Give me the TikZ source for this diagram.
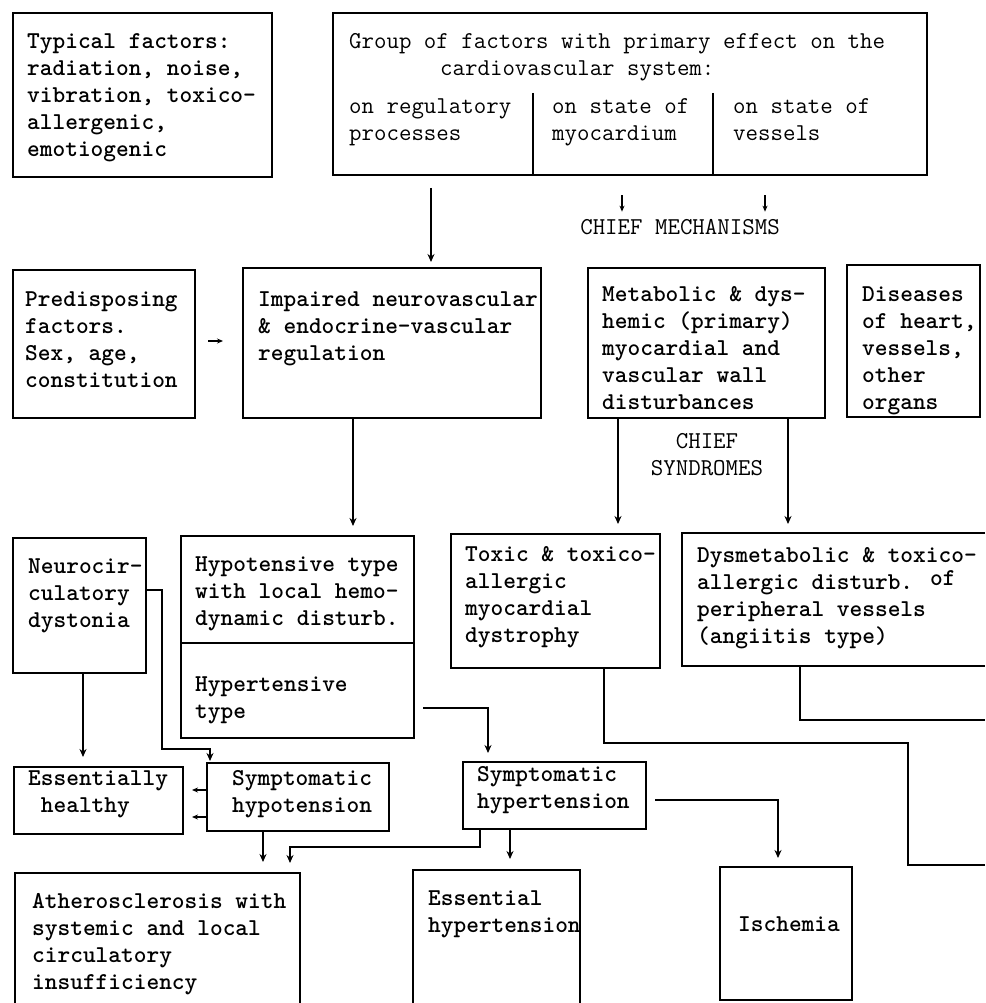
\documentclass[tikz,border=0pt]{standalone}
\usetikzlibrary{arrows.meta,fit,calc}
\newcommand{\bxfont}{\fontsize{24.2}{27}\selectfont\ttfamily\bfseries}
\newcommand{\ltfont}{\fontsize{24.2}{27}\selectfont\ttfamily\mdseries}
\newcommand{\lns}[1]{\begin{tabular}[t]{@{}l@{}}#1\end{tabular}}
\newcommand{\clns}[1]{\begin{tabular}[t]{@{}c@{}}#1\end{tabular}}
\begin{document}
\begin{tikzpicture}[x=1pt,y=-1pt,
  boxst/.style={draw, line width=1.6pt, inner sep=0pt, outer sep=0pt},
  hid/.style={inner sep=0pt, outer sep=0pt},
  ln/.style={line width=1.6pt},
  arr/.style={line width=1.6pt, -{Stealth[length=8pt,width=7pt]}},
  arrs/.style={line width=1.1pt, -{Stealth[length=6pt,width=5pt]}},
  txt/.style={anchor=base west, inner sep=0pt, font=\bxfont},
  ltxt/.style={anchor=base west, inner sep=0pt, font=\ltfont},
]
\fill[white] (0,0) rectangle (985,1003);
\useasboundingbox (0,0) rectangle (985,1003);

% ---- boxes
\node[boxst, fit={(13,13) (272,177)}] (f1) {};
\node[boxst, fit={(333,13) (927,175)}] (g) {};
\node[boxst, fit={(13,270) (195,418)}] (pre) {};
\node[boxst, fit={(243,268) (541,418)}] (imp) {};
\node[boxst, fit={(588,268) (825,418)}] (met) {};
\node[boxst, fit={(847,265) (980,417)}] (dis) {};
\node[boxst, fit={(13,538) (146,673)}] (neu) {};
\node[boxst, fit={(181,536) (414,738)}] (hyp) {};
\node[boxst, fit={(451,534) (660,668)}] (tox) {};
\node[hid, fit={(682,533) (985,666)}] (dys) {};
\node[boxst, fit={(14,767) (183,834)}] (eh) {};
\node[boxst, fit={(207,763) (389,831)}] (shpo) {};
\node[boxst, fit={(463,762) (646,829)}] (shpe) {};
\node[hid, fit={(15,873) (300,1003)}] (ath) {};
\node[hid, fit={(413,870) (580,1003)}] (ess) {};
\node[boxst, fit={(720,867) (852,1000)}] (isc) {};

% open boxes
\draw[ln] (dys.north east) -- (dys.north west) -- (dys.south west) -- (dys.south east);
\draw[ln] (ath.south west) -- (ath.north west) -- (ath.north east) -- (ath.south east);
\draw[ln] (ess.south west) -- (ess.north west) -- (ess.north east) -- (ess.south east);

% dividers
\coordinate (dv1) at (533,93);
\coordinate (dv2) at (713,93);
\draw[ln] (dv1) -- (dv1 |- g.south);
\draw[ln] (dv2) -- (dv2 |- g.south);
\coordinate (yd) at (0,643);
\draw[ln] (hyp.west |- yd) -- (hyp.east |- yd);

% ---- texts
\node[txt] (t1) at (27,49) {\lns{Typical factors:\\radiation, noise,\\vibration, toxico-\\allergenic,\\emotiogenic}};
\node[ltxt] (t2a) at (349,49) {Group of factors with primary effect on the};
\node[ltxt] (t2b) at (440,76) {cardiovascular system:};
\node[ltxt] (t2c) at (349,114) {\lns{on regulatory\\processes}};
\node[ltxt] (t2d) at (552,114) {\lns{on state of\\myocardium}};
\node[ltxt] (t2e) at (733,114) {\lns{on state of\\vessels}};
\node[ltxt, anchor=base] (mech) at (680,234) {CHIEF MECHANISMS};
\node[txt] (tpre) at (25,306) {\lns{Predisposing\\factors.\\Sex, age,\\constitution}};
\node[txt] (timp) at (258,306) {\lns{Impaired neurovascular\\\& endocrine-vascular\\regulation}};
\node[txt] (tmet) at (602,301) {\lns{Metabolic \& dys-\\hemic (primary)\\myocardial and\\vascular wall\\disturbances}};
\node[txt] (tdis) at (862,301) {\lns{Diseases\\of heart,\\vessels,\\other\\organs}};
\node[ltxt, anchor=base] (synd) at (707,448) {\clns{CHIEF\\SYNDROMES}};
\node[txt] (tneu) at (28,573) {\lns{Neurocir-\\culatory\\dystonia}};
\node[txt] (thpo) at (195,571) {\lns{Hypotensive type\\with local hemo-\\dynamic disturb.}};
\node[txt] (thpe) at (195,691) {\lns{Hypertensive\\type}};
\node[txt] (ttox) at (465,561) {\lns{Toxic \& toxico-\\allergic\\myocardial\\dystrophy}};
\node[txt] (tdys) at (697,562) {\lns{Dysmetabolic \& toxico-\\allergic disturb. \raisebox{4pt}{of}\\peripheral vessels\\(angiitis type)}};
\node[txt] (teh) at (28,785) {\lns{Essentially\\\hspace*{12.7pt}healthy}};
\node[txt] (tshpo) at (232,785) {\lns{Symptomatic\\hypotension}};
\node[txt] (tshpe) at (477,781) {\lns{Symptomatic\\hypertension}};
\node[txt] (tath) at (32,908) {\lns{Atherosclerosis with\\systemic and local\\circulatory\\insufficiency}};
\node[txt] (tess) at (428,905) {\lns{Essential\\hypertension}};
\node[txt] (tisc) at (738,931) {Ischemia};

% ---- connectors
\coordinate (xa) at (431,0);
\draw[arr] ([yshift=-13pt]g.south -| xa) -- ([yshift=6pt]imp.north -| xa);
\coordinate (xb1) at (622,0);
\coordinate (xb2) at (765,0);
\draw[arrs] ([yshift=-20pt]g.south -| xb1) -- ([yshift=7pt]mech.north -| xb1);
\draw[arrs] ([yshift=-20pt]g.south -| xb2) -- ([yshift=7pt]mech.north -| xb2);
\coordinate (ypre) at (0,341);
\draw[arrs] ([xshift=13pt]pre.east |- ypre) -- ([xshift=-20pt]imp.west |- ypre);
\coordinate (xd) at (353,0);
\draw[arr] (imp.south -| xd) -- ([yshift=10pt]hyp.north -| xd);
\coordinate (xe) at (618,0);
\coordinate (xf) at (788,0);
\draw[arr] (met.south -| xe) -- ([yshift=10pt]tox.north -| xe);
\draw[arr] (met.south -| xf) -- ([yshift=9pt]dys.north -| xf);
\coordinate (xg) at (83,0);
\draw[arr] (neu.south -| xg) -- ([yshift=10pt]eh.north -| xg);
\coordinate (h1) at (162,590);
\coordinate (h2) at (210,749);
\draw[arr] (neu.east |- h1) -- (h1) -- (h1 |- h2) -- (h2) -- ([yshift=2pt]shpo.north -| h2);
\coordinate (i1) at (423,708);
\coordinate (i2) at (488,708);
\draw[arr] ([xshift=9pt]hyp.east |- i1) -- (i2) -- ([yshift=9pt]shpe.north -| i2);
\coordinate (j1) at (604,743);
\coordinate (j2) at (908,865);
\coordinate (edge1) at (985,865);
\draw[ln] (tox.south -| j1) -- (j1) -- (j1 -| j2) -- (j2) -- (edge1);
\coordinate (k1) at (800,720);
\coordinate (edge2) at (985,720);
\draw[ln] (dys.south -| k1) -- (k1) -- (edge2);
\coordinate (l1) at (0,790);
\coordinate (l2) at (0,817);
\draw[arrs] (shpo.west |- l1) -- ([xshift=9pt]eh.east |- l1);
\draw[arrs] (shpo.west |- l2) -- ([xshift=9pt]eh.east |- l2);
\coordinate (xm) at (263,0);
\draw[arr] (shpo.south -| xm) -- ([yshift=11pt]ath.north -| xm);
\coordinate (n1) at (480,847);
\coordinate (n2) at (290,847);
\draw[arr] (shpe.south -| n1) -- (n1) -- (n2) -- ([yshift=10pt]ath.north -| n2);
\coordinate (xo) at (510,0);
\draw[arr] (shpe.south -| xo) -- ([yshift=11pt]ess.north -| xo);
\coordinate (p1) at (655,800);
\coordinate (p2) at (778,800);
\draw[arr] ([xshift=9pt]shpe.east |- p1) -- (p2) -- ([yshift=9pt]isc.north -| p2);
\end{tikzpicture}
\end{document}
